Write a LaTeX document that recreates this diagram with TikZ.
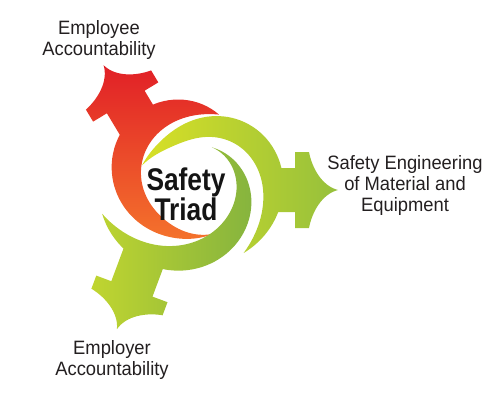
\documentclass[tikz,border=0pt]{standalone}
\usepackage{fontspec}
\setmainfont{Liberation Sans}
\newfontfamily\labelfont[FakeStretch=0.95]{Liberation Sans}
\newfontfamily\titlefont[FakeStretch=0.84]{Liberation Sans}

\begin{document}
\begin{tikzpicture}[x=0.75pt,y=0.75pt,yscale=-1,xscale=1,
  declare function={lune(\p,\w)=4*\p*(1-\p)*(1-\w+2*\w*\p);}]
\useasboundingbox (0,0) rectangle (500,400);

%Shape: Red crescent + arrow [Employee]
\shade [top color={rgb, 255:red, 225; green, 32; blue, 39 }, bottom color={rgb, 255:red, 244; green, 114; blue, 44 }]
  plot [domain=0:1, samples=70, variable=\s] ({193+(52+24*\s-7*sin(360*\s)+14*lune(\s,0.7))*cos(66+224*\s)}, {186+(52+24*\s-7*sin(360*\s)+14*lune(\s,0.7))*sin(66+224*\s)})
  -- plot [domain=1:0, samples=70, variable=\s] ({193+(52+24*\s-7*sin(360*\s)-14*lune(\s,0.7))*cos(66+224*\s)}, {186+(52+24*\s-7*sin(360*\s)-14*lune(\s,0.7))*sin(66+224*\s)}) -- cycle
  (127.5,147.6) -- (106.9,113.3) -- (93.1,121.6) -- (85.9,109.6) .. controls (98.1,98.8) and (108.4,80.9) .. (103.6,65.2) .. controls (115.2,76.8) and (135.8,76.1) .. (151.1,70.4) -- (158.3,82.4) -- (144.6,90.7) -- (165.2,125) -- cycle ;

%Shape: Yellow-green crescent + arrow [Engineering]
\shade [left color={rgb, 255:red, 216; green, 224; blue, 38 }, right color={rgb, 255:red, 150; green, 192; blue, 60 }]
  plot [domain=0:1, samples=70, variable=\s] ({193+(55+29*\s-13*sin(360*\s)*(1-\s)+12*lune(\s,0.3))*cos(-158+211*\s)}, {186+(55+29*\s-13*sin(360*\s)*(1-\s)+12*lune(\s,0.3))*sin(-158+211*\s)})
  -- plot [domain=1:0, samples=70, variable=\s] ({193+(55+29*\s-13*sin(360*\s)*(1-\s)-12*lune(\s,0.3))*cos(-158+211*\s)}, {186+(55+29*\s-13*sin(360*\s)*(1-\s)-12*lune(\s,0.3))*sin(-158+211*\s)}) -- cycle
  (265,168) -- (295,168) -- (295,152) -- (309,152) .. controls (312,168) and (322,186) .. (338,190) .. controls (322,194) and (312,212) .. (309,228) -- (295,228) -- (295,212) -- (265,212) -- cycle ;

%Shape: Green crescent + arrow [Employer]
\shade [left color={rgb, 255:red, 192; green, 213; blue, 48 }, right color={rgb, 255:red, 134; green, 180; blue, 62 }]
  plot [domain=0:1, samples=70, variable=\s] ({193+(43+52*\s-10*sin(180*\s)+12*lune(\s,0.8))*cos(-64+227*\s)}, {186+(43+52*\s-10*sin(180*\s)+12*lune(\s,0.8))*sin(-64+227*\s)})
  -- plot [domain=1:0, samples=70, variable=\s] ({193+(43+52*\s-10*sin(180*\s)-12*lune(\s,0.8))*cos(-64+227*\s)}, {186+(43+52*\s-10*sin(180*\s)-12*lune(\s,0.8))*sin(-64+227*\s)}) -- cycle
  (166.5,259.1) -- (152.5,296.6) -- (167.5,302.2) -- (162.6,315.3) .. controls (146.6,312.5) and (126.2,315.6) .. (116.9,329.2) .. controls (118.7,312.8) and (105.3,297.1) .. (91.4,288.7) -- (96.3,275.6) -- (111.3,281.2) -- (125.3,243.7) -- cycle ;

% Text Node
\draw (186,167) node [anchor=north][inner sep=0.75pt][align=center, font=\titlefont\bfseries\fontsize{23.5}{22}\selectfont, color={rgb, 255:red, 20; green, 20; blue, 20 }] (triad) {Safety\\Triad};
% Text Node
\draw (99,19) node [anchor=north][inner sep=0.75pt][align=center, font=\labelfont\fontsize{14.5}{16}\selectfont, color={rgb, 255:red, 35; green, 31; blue, 32 }] (employee) {Employee\\Accountability};
% Text Node
\draw (405,154) node [anchor=north][inner sep=0.75pt][align=center, font=\labelfont\fontsize{14.5}{15.75}\selectfont, color={rgb, 255:red, 35; green, 31; blue, 32 }] (engineering) {Safety Engineering\\of Material and\\Equipment};
% Text Node
\draw (112,339) node [anchor=north][inner sep=0.75pt][align=center, font=\labelfont\fontsize{14.5}{16}\selectfont, color={rgb, 255:red, 35; green, 31; blue, 32 }] (employer) {Employer\\Accountability};

\end{tikzpicture}
\end{document}
